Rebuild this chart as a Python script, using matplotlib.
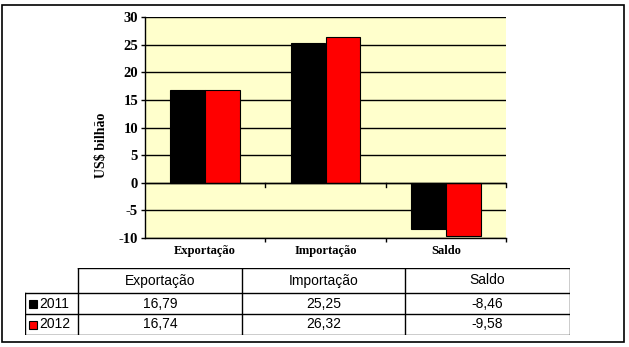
import matplotlib
matplotlib.use('Agg')
import matplotlib.pyplot as plt
from matplotlib.patches import Rectangle

# Dados
categorias = ['Exportação', 'Importação', 'Saldo']
anos = ['2011', '2012']
valores_2011 = [16.79, 25.25, -8.46]
valores_2012 = [16.74, 26.32, -9.58]
cores = ['black', 'red']
y_ticks = [-10, -5, 0, 5, 10, 15, 20, 25, 30]

W, H = 629, 347
fig = plt.figure(figsize=(W / 100, H / 100), dpi=100)

# Moldura externa
fig.patches.append(Rectangle((2 / W, 1 - 342 / H), 622 / W, 337 / H,
                             transform=fig.transFigure, fill=False,
                             edgecolor='black', linewidth=1.2))

serif = ['Liberation Serif', 'DejaVu Serif']
narrow = ['Liberation Sans Narrow', 'Liberation Sans', 'DejaVu Sans']

# Grafico de barras
ax = fig.add_axes([145 / W, 1 - 238 / H, 361 / W, 221 / H])
ax.set_facecolor('#FFFFCC')
x = list(range(len(categorias)))
largura = 0.29
for serie, cor, off in zip([valores_2011, valores_2012], cores, [-0.5, 0.5]):
    ax.bar([i + off * largura for i in x], serie, width=largura, color=cor,
           edgecolor='black', linewidth=0.8, zorder=3)

ax.set_xlim(-0.5, 2.5)
ax.set_ylim(-10, 30)
ax.set_yticks(y_ticks)
ax.set_yticklabels([str(v) for v in y_ticks], fontfamily=serif,
                   fontweight='bold', fontsize=10.5)
ax.tick_params(axis='y', direction='out', length=3, width=1, pad=2)
ax.set_xticks([0.5, 1.5, 2.5])
ax.set_xticklabels([])
ax.tick_params(axis='x', direction='out', length=3, width=1)
for i, c in enumerate(categorias):
    ax.text(i, -12.4, c, ha='center', va='center', fontfamily=serif,
            fontweight='bold', fontsize=9)
ax.grid(axis='y', color='black', linewidth=1, zorder=1)
ax.axhline(0, color='black', linewidth=1, zorder=4)
for xt in [0.5, 1.5, 2.5]:
    ax.plot([xt, xt], [0, -0.7], color='black', linewidth=1, zorder=4,
            clip_on=False)
for s in ['top', 'right']:
    ax.spines[s].set_visible(False)
ax.spines['left'].set_linewidth(1)
ax.spines['bottom'].set_linewidth(1)
ax.set_ylabel('US$ bilhão', fontfamily=serif, fontweight='bold',
              fontsize=10)
ax.yaxis.set_label_coords(-37 / 361, 93 / 221)

# Tabela de dados
tx = fig.add_axes([25 / W, 1 - 335 / H, 545 / W, 67 / H])
tx.set_xlim(0, 545)
tx.set_ylim(67, 0)
tx.axis('off')
col_x = [0, 53, 217, 380, 545]
row_y = [0, 25, 46, 67]
# linhas horizontais
tx.plot([53, 545], [0, 0], color='black', lw=1)
for yy in row_y[1:]:
    tx.plot([0, 545], [yy, yy], color='black', lw=1)
# linhas verticais
tx.plot([0, 0], [25, 67], color='black', lw=1)
for xx in col_x[1:]:
    tx.plot([xx, xx], [0, 67], color='black', lw=1)
for j, c in enumerate(categorias):
    tx.text((col_x[j + 1] + col_x[j + 2]) / 2, 12.5, c, ha='center',
            va='center', fontfamily=narrow, fontsize=10)
for r, (ano, serie, cor) in enumerate(zip(anos, [valores_2011, valores_2012], cores)):
    yc = (row_y[r + 1] + row_y[r + 2]) / 2
    tx.add_patch(Rectangle((4, yc - 4), 8, 8, facecolor=cor,
                           edgecolor='black', lw=0.8))
    tx.text(14, yc, ano, ha='left', va='center', fontfamily=narrow,
            fontsize=10)
    for j, v in enumerate(serie):
        tx.text((col_x[j + 1] + col_x[j + 2]) / 2, yc,
                f'{v:.2f}'.replace('.', ','), ha='center', va='center',
                fontfamily=narrow, fontsize=10)

fig.savefig('out.png', dpi=100)
